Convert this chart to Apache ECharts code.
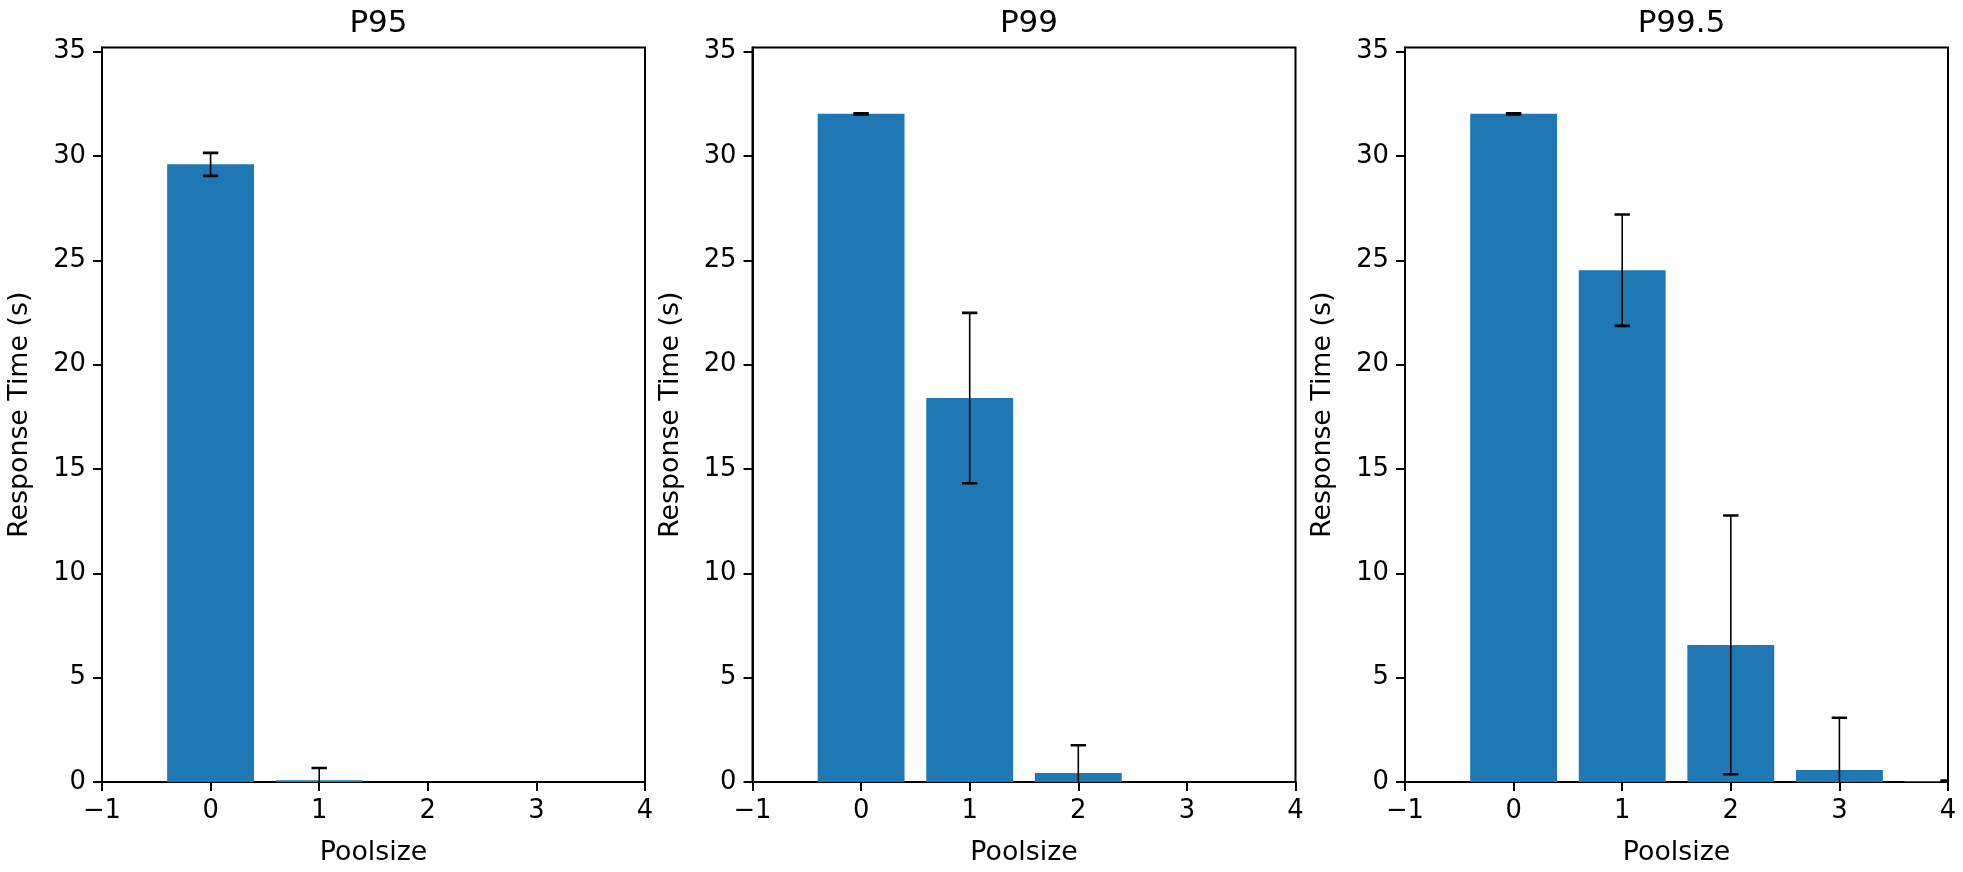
<!DOCTYPE html>
<html>
<head>
<meta charset="utf-8">
<script src="https://cdn.jsdelivr.net/npm/echarts@6/dist/echarts.min.js"></script>
<style>
html,body{margin:0;padding:0;background:#fff;}
#chart{width:1963px;height:872px;}
</style>
</head>
<body>
<div id="chart"></div>
<script>
// ---- data ----
const poolsizes = [0, 1, 2, 3, 4];
const titles = ['P95', 'P99', 'P99.5'];
const p95Means = [29.6, 0.08, 0, 0, 0];
const p95Errs = [0.55, 0.59, 0, 0, 0];
const p99Means = [32.02, 18.4, 0.43, 0, 0];
const p99Errs = [0.03, 4.08, 1.33, 0, 0];
const p995Means = [32.02, 24.53, 6.57, 0.57, 0.03];
const p995Errs = [0.03, 2.67, 6.2, 2.51, 0.04];
const yTicks = [0, 5, 10, 15, 20, 25, 30, 35];
const xName = 'Poolsize';
const yName = 'Response Time (s)';

const meansList = [p95Means, p99Means, p995Means];
const errsList = [p95Errs, p99Errs, p995Errs];

const FONT = 'DejaVu Sans';
const BAR_COLOR = '#1f77b4';
const BAR_WIDTH = 0.8;
const CAP = 7.7;

const gridLefts = [102, 752.5, 1405];
const gridW = 543;
const gridTop = 47.5;
const gridH = 738.5;

const option = {
  animation: false,
  backgroundColor: '#fff',
  title: [],
  grid: [],
  xAxis: [],
  yAxis: [],
  series: []
};

for (let i = 0; i < 3; i++) {
  option.title.push({
    text: titles[i],
    left: gridLefts[i] + gridW / 2,
    top: 3,
    textAlign: 'center',
    textStyle: {fontFamily: FONT, fontSize: 31, fontWeight: 'normal', color: '#000'}
  });
  option.grid.push({
    left: gridLefts[i], top: gridTop, width: gridW, height: gridH,
    show: true, borderColor: '#000', borderWidth: 2, backgroundColor: 'transparent',
    containLabel: false
  });
  option.xAxis.push({
    type: 'value', gridIndex: i, min: -1, max: 4, interval: 1,
    name: xName, nameLocation: 'middle', nameGap: 58,
    nameTextStyle: {fontFamily: FONT, fontSize: 26.8, color: '#000'},
    axisLine: {show: true, onZero: false, lineStyle: {color: '#000', width: 2}},
    axisTick: {show: true, inside: false, length: 9, lineStyle: {color: '#000', width: 2}},
    axisLabel: {fontFamily: FONT, fontSize: 25.8, color: '#000', margin: 16,
      formatter: v => (v < 0 ? '\u2212' + Math.abs(v) : String(v)),
      showMinLabel: true, showMaxLabel: true},
    splitLine: {show: false}
  });
  option.yAxis.push({
    type: 'value', gridIndex: i, min: 0, max: 35.2,
    name: yName, nameLocation: 'middle', nameGap: 68, nameRotate: 90,
    nameTextStyle: {fontFamily: FONT, fontSize: 26.8, color: '#000'},
    axisLine: {show: true, onZero: false, lineStyle: {color: '#000', width: 2}},
    axisTick: {show: true, inside: false, length: 9, lineStyle: {color: '#000', width: 2}, customValues: yTicks},
    axisLabel: {fontFamily: FONT, fontSize: 25.8, color: '#000', margin: 16, customValues: yTicks},
    splitLine: {show: false}
  });

  const means = meansList[i];
  const errs = errsList[i];
  const barData = poolsizes.map((x, k) => [x, means[k]]);
  const errData = poolsizes.map((x, k) => [x, means[k], errs[k]]);

  option.series.push({
    type: 'custom', xAxisIndex: i, yAxisIndex: i, clip: true,
    data: barData,
    renderItem: function (params, api) {
      const x = api.value(0), v = api.value(1);
      const p1 = api.coord([x - BAR_WIDTH / 2, v]);
      const p2 = api.coord([x + BAR_WIDTH / 2, 0]);
      const shape = echarts.graphic.clipRectByRect({
        x: p1[0], y: Math.min(p1[1], p2[1]), width: p2[0] - p1[0], height: Math.abs(p2[1] - p1[1])
      }, {x: params.coordSys.x, y: params.coordSys.y, width: params.coordSys.width, height: params.coordSys.height});
      if (!shape) return null;
      return {type: 'rect', shape: shape, style: {fill: BAR_COLOR}};
    },
    z: 2
  });
  option.series.push({
    type: 'custom', xAxisIndex: i, yAxisIndex: i, clip: true,
    data: errData,
    renderItem: function (params, api) {
      const x = api.value(0), v = api.value(1), e = api.value(2);
      if (!(e > 0)) return null;
      const top = api.coord([x, v + e]);
      const bot = api.coord([x, v - e]);
      const cs = params.coordSys;
      const yMax = cs.y + cs.height;
      const children = [];
      const yb = Math.min(bot[1], yMax);
      children.push({type: 'line', shape: {x1: top[0], y1: top[1], x2: top[0], y2: yb},
        style: {stroke: '#000', lineWidth: 1.6}});
      children.push({type: 'line', shape: {x1: top[0] - CAP, y1: top[1], x2: Math.min(top[0] + CAP, cs.x + cs.width), y2: top[1]},
        style: {stroke: '#000', lineWidth: 2.6}});
      if (bot[1] <= yMax) {
        children.push({type: 'line', shape: {x1: bot[0] - CAP, y1: bot[1], x2: Math.min(bot[0] + CAP, cs.x + cs.width), y2: bot[1]},
          style: {stroke: '#000', lineWidth: 2.6}});
      }
      return {type: 'group', children: children};
    },
    z: 3
  });
}

const chart = echarts.init(document.getElementById('chart'), null, {renderer: 'canvas'});
chart.setOption(option);
</script>
</body>
</html>
